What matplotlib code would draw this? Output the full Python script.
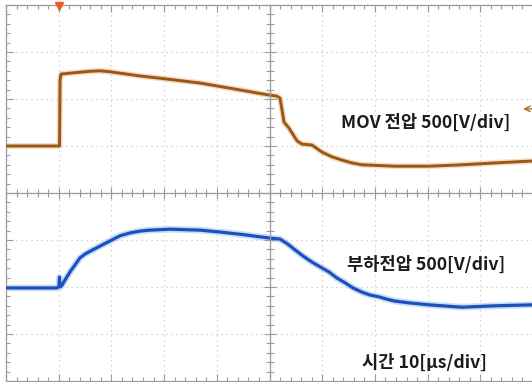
import matplotlib
matplotlib.use("Agg")
import matplotlib.pyplot as plt
from matplotlib.ticker import MultipleLocator

plt.rcParams['font.family'] = ['Noto Sans CJK KR', 'DejaVu Sans']

# Time axis in microseconds (10 us/div), traces in screen divisions
mov_t = [0.00, 10.06, 10.15, 10.25, 10.44, 12.14, 14.04, 15.94, 17.84, 19.73,
         21.63, 25.43, 30.17, 36.81, 42.50, 48.58, 51.42, 51.99, 52.37, 52.75,
         53.70, 55.22, 56.17, 58.06, 59.96, 61.86, 63.76, 65.65, 67.55, 73.81,
         80.27, 86.53, 92.79, 99.81]
mov_v = [1.00, 1.00, 1.00, 2.40, 2.53, 2.55, 2.57, 2.59, 2.60, 2.58,
         2.55, 2.49, 2.43, 2.34, 2.23, 2.11, 2.06, 2.02, 1.77, 1.51,
         1.38, 1.11, 1.04, 1.02, 0.87, 0.77, 0.70, 0.64, 0.60, 0.57,
         0.57, 0.60, 0.64, 0.68]

load_t = [0.00, 9.68, 10.06, 10.15, 10.25, 10.63, 11.20, 12.14, 13.09, 14.04,
          14.99, 15.94, 17.84, 19.73, 21.63, 23.53, 25.43, 27.32, 31.12, 36.81,
          40.61, 45.35, 50.09, 51.99, 53.51, 54.84, 56.36, 58.06, 59.58, 61.29,
          62.81, 64.33, 65.84, 67.55, 69.07, 70.78, 72.30, 73.81, 76.66, 80.27,
          86.53, 92.79, 99.81]
load_v = [-2.02, -2.02, -1.98, -1.79, -2.00, -1.96, -1.85, -1.68, -1.53, -1.38,
          -1.30, -1.24, -1.13, -1.02, -0.91, -0.85, -0.81, -0.79, -0.77, -0.79,
          -0.83, -0.89, -0.96, -0.98, -1.09, -1.21, -1.34, -1.47, -1.57, -1.68,
          -1.81, -1.91, -2.02, -2.11, -2.17, -2.21, -2.26, -2.30, -2.34, -2.38,
          -2.43, -2.40, -2.38]

trigger_time = 10.0
trigger_level = 1.79

mov_label = "MOV 전압 500[V/div]"
load_label = "부하전압 500[V/div]"
time_label = "시간 10[μs/div]"

W, H = 532, 382
fig = plt.figure(figsize=(W / 100, H / 100), dpi=100)
fig.patch.set_facecolor('white')

left = 6 / W
bottom = 1 / H
width = 527 / W
height = 376 / H

grid_col = '#c8c8c8'
frame_col = '#9a9a9a'

# Screen frame with border ticks and dotted division grid
ax = fig.add_axes([left, bottom, width, height])
ax.set_xlim(0, 100)
ax.set_ylim(-4, 4)
ax.xaxis.set_major_locator(MultipleLocator(10))
ax.xaxis.set_minor_locator(MultipleLocator(2))
ax.yaxis.set_major_locator(MultipleLocator(1))
ax.yaxis.set_minor_locator(MultipleLocator(0.2))
ax.tick_params(which='both', direction='in', top=True, right=False,
               labelbottom=False, labelleft=False, color=frame_col, width=0.8)
ax.tick_params(which='major', length=5)
ax.tick_params(which='minor', length=3)
for side in ('left', 'top', 'bottom'):
    ax.spines[side].set_color(frame_col)
    ax.spines[side].set_linewidth(0.9)
ax.spines['right'].set_visible(False)
ax.grid(which='major', color=grid_col, linestyle=(0, (1, 3)), linewidth=0.9)
ax.set_facecolor('none')

# Centre graticule cross with in/out ticks
cx = fig.add_axes([left, bottom, width, height], sharex=ax, sharey=ax)
cx.patch.set_visible(False)
cx.spines['left'].set_position(('data', 50))
cx.spines['bottom'].set_position(('data', 0))
cx.spines['top'].set_visible(False)
cx.spines['right'].set_visible(False)
for side in ('left', 'bottom'):
    cx.spines[side].set_color(frame_col)
    cx.spines[side].set_linewidth(0.9)
cx.tick_params(which='both', direction='inout', labelbottom=False,
               labelleft=False, color=frame_col, width=0.8)
cx.tick_params(which='major', length=9)
cx.tick_params(which='minor', length=6)

# Traces with a faint phosphor glow
mov_col = '#9a5812'
load_col = '#1e4fbf'
ax.plot(mov_t, mov_v, color='#e8b98a', lw=4.2, alpha=0.5, solid_joinstyle='round', zorder=3)
ax.plot(mov_t, mov_v, color=mov_col, lw=2.1, solid_joinstyle='round', zorder=4)
ax.plot(load_t, load_v, color='#9cc4f2', lw=4.8, alpha=0.55, solid_joinstyle='round', zorder=3)
ax.plot(load_t, load_v, color=load_col, lw=2.3, solid_joinstyle='round', zorder=4)

# Trigger position and level markers
ax.plot([trigger_time], [3.97], marker='v', markersize=5.5, color='#ee5a2c',
        clip_on=False, zorder=6)
ax.annotate('', xy=(97.6, trigger_level), xytext=(100.5, trigger_level),
            arrowprops=dict(arrowstyle='->', color='#b06a2a', lw=1.0),
            annotation_clip=False)

txt_kw = dict(ha='center', va='center', fontsize=12.7, fontweight='bold',
              color='#1c1c1c', zorder=7)
ax.text(79.7, 1.49, mov_label, **txt_kw)
ax.text(79.8, -1.53, load_label, **txt_kw)
ax.text(79.4, -3.62, time_label, **txt_kw)

fig.savefig('out.png', dpi=100, facecolor='white')
